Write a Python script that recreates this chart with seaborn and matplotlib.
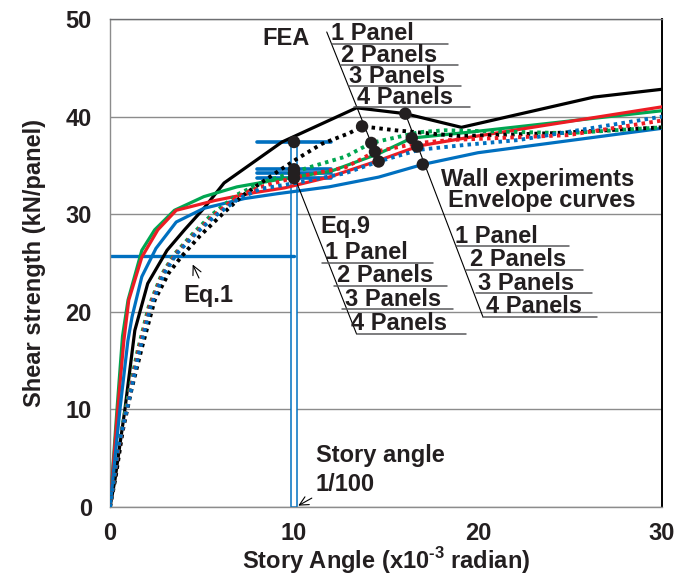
import numpy as np
import pandas as pd
import matplotlib
matplotlib.use("Agg")
import matplotlib.pyplot as plt
import seaborn as sns

sns.set_style("white")
plt.rcParams["font.family"] = ["Liberation Sans", "DejaVu Sans"]
plt.rcParams["font.weight"] = "bold"
plt.rcParams["mathtext.fontset"] = "custom"
plt.rcParams["mathtext.rm"] = "Liberation Sans:bold"
plt.rcParams["mathtext.bf"] = "Liberation Sans:bold"

TXT = "#231F20"
panels = ["1 Panel", "2 Panels", "3 Panels", "4 Panels"]
colors = ["#000000", "#00A651", "#ED1C24", "#0070C0"]

# Wall experiments: envelope curves (story angle x10^-3 rad, kN/panel)
wall_1_x = [0, 0.27, 0.81, 1.35, 2.05, 3.1, 4.05, 5.1, 6.2, 9.35, 13.4, 16.05, 19.1, 26.3, 30.0]
wall_1_y = [0, 2.8, 10.0, 18.1, 22.9, 26.3, 28.4, 30.6, 33.2, 37.4, 40.9, 40.3, 38.9, 42.0, 42.8]
wall_2_x = [0, 0.38, 0.68, 0.98, 1.73, 2.43, 3.5, 5.1, 6.9, 9.0, 12.0, 14.6, 16.4, 19.5, 30.0]
wall_2_y = [0, 10.0, 17.5, 21.2, 26.3, 28.4, 30.4, 31.8, 32.8, 33.5, 34.4, 36.2, 37.8, 38.4, 40.6]
wall_3_x = [0, 0.42, 0.75, 1.02, 1.73, 2.6, 3.6, 5.7, 7.8, 9.5, 11.9, 14.6, 16.8, 19.6, 30.0]
wall_3_y = [0, 10.0, 17.0, 21.2, 25.6, 28.4, 30.4, 31.4, 32.2, 32.7, 33.8, 35.5, 37.0, 37.9, 41.0]
wall_4_x = [0, 0.54, 0.97, 1.2, 1.73, 2.5, 3.6, 5.1, 7.3, 9.1, 11.9, 14.6, 17.0, 20.0, 30.0]
wall_4_y = [0, 10.0, 17.0, 19.5, 23.6, 26.5, 29.2, 30.6, 31.6, 32.1, 32.8, 33.8, 35.1, 36.3, 38.8]

# FEA results
fea_1_x = [0, 0.3, 0.7, 1.2, 1.73, 2.43, 3.2, 3.9, 4.9, 6.1, 7.2, 8.2, 9.3, 10.1, 11.5, 13.0, 13.7, 15.5, 19.0, 24.0, 30.0]
fea_1_y = [0, 3.0, 7.9, 12.3, 16.3, 21.2, 24.0, 25.7, 27.8, 30.0, 31.9, 33.2, 34.6, 35.6, 37.2, 38.3, 39.0, 38.6, 38.0, 38.3, 38.9]
fea_2_x = [0, 0.45, 0.9, 1.5, 2.1, 2.8, 3.5, 4.5, 5.5, 6.9, 8.2, 9.8, 11.0, 12.8, 14.2, 16.8, 18.2, 24.9, 30.0]
fea_2_y = [0, 6.0, 10.5, 16.0, 20.5, 23.8, 25.9, 28.0, 29.9, 32.0, 33.2, 34.2, 34.9, 35.9, 37.3, 38.4, 38.6, 38.3, 38.9]
fea_3_x = [0, 0.45, 0.95, 1.55, 2.15, 2.85, 3.55, 4.6, 5.6, 6.9, 8.2, 10.1, 12.8, 14.4, 16.8, 18.5, 24.9, 30.0]
fea_3_y = [0, 6.0, 10.5, 16.0, 20.5, 23.8, 25.9, 28.0, 29.8, 31.8, 32.8, 33.8, 34.8, 36.4, 37.3, 37.6, 38.1, 39.6]
fea_4_x = [0, 0.43, 0.95, 1.6, 2.2, 2.9, 3.6, 4.65, 5.7, 7.0, 8.2, 10.1, 12.8, 14.6, 16.8, 19.3, 22.2, 30.0]
fea_4_y = [0, 6.0, 10.3, 16.0, 20.5, 23.8, 25.9, 28.0, 29.8, 31.6, 32.6, 33.2, 34.2, 35.4, 36.6, 37.1, 37.6, 40.0]

# design equations
eq1_value = 25.7
eq9_values = [37.4, 34.6, 34.2, 33.7]
story_angle_limit = 10.0

# label points marked on each family of curves
fea_mark_x = [13.7, 14.2, 14.4, 14.6]
wall_mark_x = [16.05, 16.4, 16.7, 17.0]

wall_x = [wall_1_x, wall_2_x, wall_3_x, wall_4_x]
wall_y = [wall_1_y, wall_2_y, wall_3_y, wall_4_y]
fea_x = [fea_1_x, fea_2_x, fea_3_x, fea_4_x]
fea_y = [fea_1_y, fea_2_y, fea_3_y, fea_4_y]

rows = []
for src, xs, ys in (("Wall", wall_x, wall_y), ("FEA", fea_x, fea_y)):
    for p, x, y in zip(panels, xs, ys):
        for i, (a, b) in enumerate(zip(x, y)):
            rows.append({"source": src, "panel": p, "order": i, "angle": a, "strength": b})
curves = pd.DataFrame(rows)

fig = plt.figure(figsize=(6.76, 5.76), dpi=100)
ax = fig.add_axes([110 / 676, 69 / 576, 552 / 676, 488 / 576])

ax.set_xlim(0, 30)
ax.set_ylim(0, 50)
ax.set_xticks([0, 10, 20, 30])
ax.set_yticks(range(0, 51, 10))
ax.yaxis.grid(True, color="#8C8C8C", lw=1.0, zorder=0)
ax.set_axisbelow(True)

# story angle 1/100 marker column
ax.bar(story_angle_limit, eq9_values[0], width=0.32, color="white",
       edgecolor="#0070C0", linewidth=1.1, zorder=1.5)

# Eq.1 level
sns.lineplot(x=[0, story_angle_limit], y=[eq1_value, eq1_value], color="#0070C0",
             lw=2.4, ax=ax, zorder=2)
# Eq.9 levels
for v in eq9_values:
    sns.lineplot(x=[8, 12], y=[v, v], color="#0070C0", lw=2.6, ax=ax, zorder=2)

for (src, p), g in curves.groupby(["source", "panel"], sort=False):
    c = colors[panels.index(p)]
    if src == "Wall":
        sns.lineplot(data=g, x="angle", y="strength", color=c, lw=2.3, sort=False,
                     estimator=None, ax=ax, zorder=3)
    else:
        sns.lineplot(data=g, x="angle", y="strength", color=c, lw=2.8, sort=False,
                     estimator=None, ax=ax, zorder=3.5, linestyle=(0, (0.9, 1.1)))

# black marker dots
fea_mark_y = [np.interp(mx, x, y) for mx, x, y in zip(fea_mark_x, fea_x, fea_y)]
wall_mark_y = [np.interp(mx, x, y) for mx, x, y in zip(wall_mark_x, wall_x, wall_y)]
dots = pd.DataFrame({
    "angle": fea_mark_x + wall_mark_x + [story_angle_limit] * 4,
    "strength": fea_mark_y + wall_mark_y + eq9_values,
})
sns.scatterplot(data=dots, x="angle", y="strength", color="#231F20", s=80,
                edgecolor="none", ax=ax, zorder=5)

# leader lines
lead = dict(color="black", lw=0.8, zorder=4, clip_on=False)
ax.plot([11.78, fea_mark_x[3]], [48.67, fea_mark_y[3]], **lead)
ax.plot([wall_mark_x[0], 20.27], [wall_mark_y[0], 19.47], **lead)
ax.plot([10.05, 13.4], [eq9_values[3], 17.73], **lead)

ul = dict(color="#58595B", lw=1.1, zorder=4, clip_on=False)
tkw = dict(fontsize=17, color=TXT, fontweight="bold", va="baseline", ha="left", zorder=6)

# FEA labels
ax.text(8.27, 47.34, "FEA", **tkw)
fea_lab = [(12.0, 47.85), (12.54, 45.59), (12.97, 43.44), (13.41, 41.29)]
fea_ul = [(47.44, 12.05, 18.38), (45.29, 12.54, 18.92), (43.14, 12.97, 19.08), (40.98, 13.24, 19.57)]
for p, (tx, ty), (uy, u0, u1) in zip(panels, fea_lab, fea_ul):
    ax.text(tx, ty, p, **tkw)
    ax.plot([u0, u1], [uy, uy], **ul)

# wall experiment labels
ax.text(23.24, 32.89, "Wall experiments", **{**tkw, "ha": "center"})
ax.text(23.46, 30.74, "Envelope curves", **{**tkw, "ha": "center"})
wall_lab = [(18.76, 27.05), (19.57, 24.69), (20.0, 22.23), (20.43, 19.88)]
wall_ul = [(26.74, 18.81, 24.97), (24.28, 19.35, 25.68), (21.93, 19.89, 26.22), (19.47, 20.27, 26.49)]
for p, (tx, ty), (uy, u0, u1) in zip(panels, wall_lab, wall_ul):
    ax.text(tx, ty, p, **tkw)
    ax.plot([u0, u1], [uy, uy], **ul)

# Eq.9 labels
ax.text(11.41, 28.07, "Eq.9", **tkw)
eq9_lab = [(11.68, 25.41), (12.32, 23.05), (12.76, 20.59), (13.08, 18.14)]
eq9_ul = [(25.0, 11.51, 17.57), (22.64, 12.16, 18.3), (20.29, 12.6, 18.65), (17.73, 13.4, 19.35)]
for p, (tx, ty), (uy, u0, u1) in zip(panels, eq9_lab, eq9_ul):
    ax.text(tx, ty, p, **tkw)
    ax.plot([u0, u1], [uy, uy], **ul)

# Eq.1 label
arrow = dict(arrowstyle="->", color="black", lw=0.8, mutation_scale=16)
ax.text(4.0, 21.03, "Eq.1", **tkw)
ax.annotate("", xy=(4.43, 25.1), xytext=(4.9, 23.2), arrowprops=arrow, zorder=6)

# story angle annotation
ax.text(11.19, 4.64, "Story angle", **tkw)
ax.text(11.19, 1.67, "1/100", **tkw)
ax.annotate("", xy=(10.1, 0.0), xytext=(11.1, 1.05), arrowprops=arrow, zorder=6)

# axes styling
for side in ("left", "bottom"):
    ax.spines[side].set_color("#8C8C8C")
    ax.spines[side].set_linewidth(1.0)
ax.spines["top"].set_color("#6D6E71")
ax.spines["top"].set_linewidth(1.0)
ax.spines["right"].set_color("black")
ax.spines["right"].set_linewidth(1.4)
ax.tick_params(axis="both", which="major", direction="out", length=6, width=1,
               color="#8C8C8C", labelsize=17, labelcolor=TXT)
ax.tick_params(axis="y", pad=7)
ax.tick_params(axis="x", pad=5)
for lab in ax.get_xticklabels() + ax.get_yticklabels():
    lab.set_fontweight("bold")

ax.set_xlabel(r"Story Angle (x10$^{\text{-3}}$ radian)", fontsize=17, color=TXT,
              fontweight="bold", labelpad=0)
ax.set_ylabel("Shear strength (kN/panel)", fontsize=17, color=TXT,
              fontweight="bold", labelpad=14)

fig.savefig("out.png", dpi=100)
